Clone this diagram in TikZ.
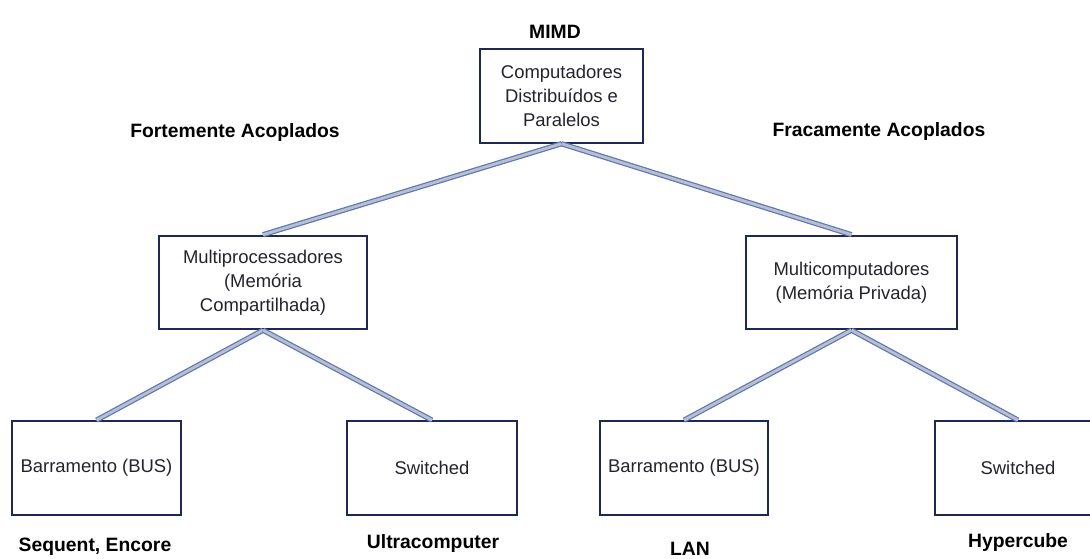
\documentclass[tikz,border=0pt]{standalone}
\usepackage{fontspec}
\setmainfont{Liberation Sans}
\usepackage{tikz}
\usetikzlibrary{positioning}
\definecolor{boxline}{RGB}{30,40,80}
\definecolor{linkedge}{RGB}{85,120,200}
\definecolor{linkfill}{RGB}{190,190,195}
\definecolor{boxtext}{RGB}{35,35,45}

\begin{document}
\begin{tikzpicture}[
  node distance=1.8cm and 1.3cm,
  box/.style={draw=boxline, line width=1.1pt, minimum height=1.87cm, align=center,
    font=\fontsize{10.5}{13.6}\selectfont, text=boxtext, inner sep=2pt},
  lbl/.style={font=\fontsize{11}{12}\selectfont\bfseries, inner sep=0pt},
  link/.style={draw=linkedge, line width=0.7pt, double=linkfill, double distance=1.6pt}
]
\useasboundingbox (0,0) rectangle (21.8,-11.16);
\clip (0,0) rectangle (21.8,-11.16);

\node[box, minimum width=3.26cm] (mimd) at (11.23,-1.92) {Computadores\\Distribu\'idos e\\Paralelos};

\node[box, minimum width=4.16cm, below=1.82cm of mimd, xshift=-5.97cm] (multip) {Multiprocessadores\\(Mem\'oria\\Compartilhada)};
\node[box, minimum width=4.22cm, below=1.82cm of mimd, xshift=5.8cm] (multic) {Multicomputadores\\(Mem\'oria Privada)};

\node[box, minimum width=3.38cm, below=of multip, xshift=-3.33cm] (busl) {Barramento (BUS)};
\node[box, minimum width=3.4cm, below=of multip, xshift=3.38cm] (swl) {Switched};
\node[box, minimum width=3.36cm, below=of multic, xshift=-3.35cm] (busr) {Barramento (BUS)};
\node[box, minimum width=3.32cm, below=of multic, xshift=3.33cm] (swr) {Switched};

\node[lbl] (tmimd) at (11.1,-0.64) {MIMD};
\node[lbl] (forte) at (4.7,-2.65) {Fortemente Acoplados};
\node[lbl] (fraco) at (17.58,-2.62) {Fracamente Acoplados};
\node[lbl] (seq) at (1.9,-10.93) {Sequent, Encore};
\node[lbl] (ultra) at (8.66,-10.86) {Ultracomputer};
\node[lbl] (lan) at (13.8,-10.98) {LAN};
\node[lbl] (hyper) at (20.36,-10.84) {Hypercube};

\draw[link] (mimd.south) -- (multip.north);
\draw[link] (mimd.south) -- (multic.north);
\draw[link] (multip.south) -- (busl.north);
\draw[link] (multip.south) -- (swl.north);
\draw[link] (multic.south) -- (busr.north);
\draw[link] (multic.south) -- (swr.north);

\end{tikzpicture}
\end{document}
